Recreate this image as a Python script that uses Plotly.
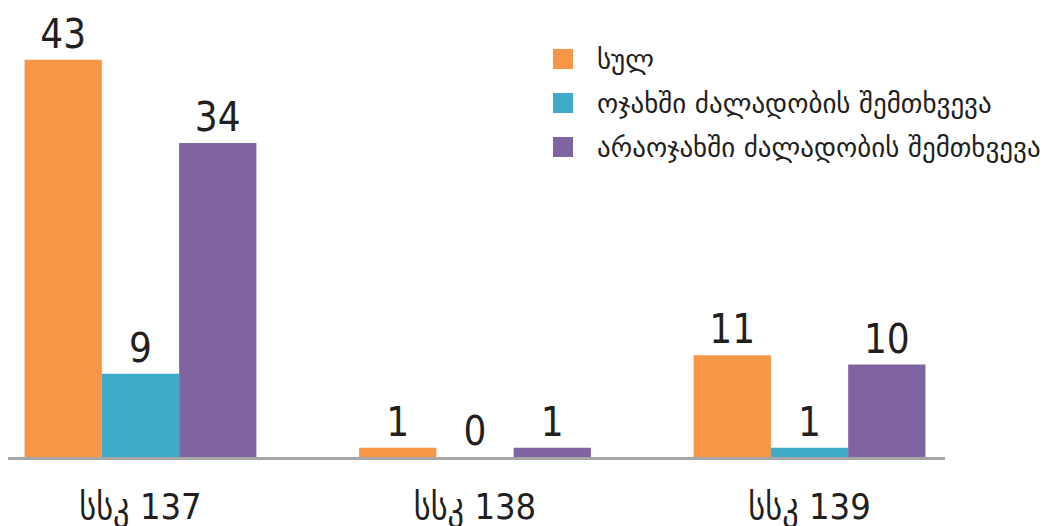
import plotly.graph_objects as go

# data
categories = ['სსკ 137', 'სსკ 138', 'სსკ 139']
series_names = ['სულ', 'ოჯახში ძალადობის შემთხვევა', 'არაოჯახში ძალადობის შემთხვევა']
total = [43, 1, 11]
domestic = [9, 0, 1]
non_domestic = [34, 1, 10]

colors = ['#F79646', '#3FABC8', '#8064A2']
num_font = 'DejaVu Sans Condensed, DejaVu Sans, sans-serif'
geo_font = 'DejaVu Sans, sans-serif'
text_color = '#231F20'

fig = go.Figure()
for name, vals, color in zip(series_names, [total, domestic, non_domestic], colors):
    fig.add_trace(go.Bar(
        x=categories,
        y=vals,
        name=name,
        marker=dict(color=color, line=dict(width=0)),
        text=vals,
        textposition='outside',
        cliponaxis=False,
        textfont=dict(size=40, color=text_color, family=num_font),
        showlegend=False,
    ))

# legend drawn by hand so the swatches can be as big as in the original
legend_y = [0.8864, 0.7884, 0.6904]
for name, color, ly in zip(series_names, colors, legend_y):
    fig.add_shape(
        type='rect', xref='paper', yref='paper',
        x0=0.5816, x1=0.6030, y0=ly - 0.0223, y1=ly + 0.0223,
        fillcolor=color, line=dict(width=0),
    )
    fig.add_annotation(
        text=name, xref='paper', yref='paper',
        x=0.6265, y=ly, xanchor='left', yanchor='middle',
        showarrow=False,
        font=dict(size=27, color=text_color, family=geo_font),
    )

# page body adds an 8px offset, margins account for it
fig.update_layout(
    width=1055,
    height=526,
    margin=dict(l=0, r=118, t=0, b=77),
    paper_bgcolor='white',
    plot_bgcolor='white',
    barmode='group',
    bargap=0.307,
    bargroupgap=0,
    font=dict(family=num_font, color=text_color),
    showlegend=False,
)

fig.update_xaxes(
    type='category',
    range=[-0.396, 2.405],
    automargin=False,
    showline=True, linecolor='#A6A6A6', linewidth=3,
    showgrid=False, ticks='',
    ticklabelstandoff=16,
    tickfont=dict(size=36, color=text_color, family=num_font),
)
fig.update_yaxes(
    range=[0, 48.6],
    automargin=False,
    visible=False,
    showgrid=False, zeroline=False,
)

fig.write_html('out.html')
